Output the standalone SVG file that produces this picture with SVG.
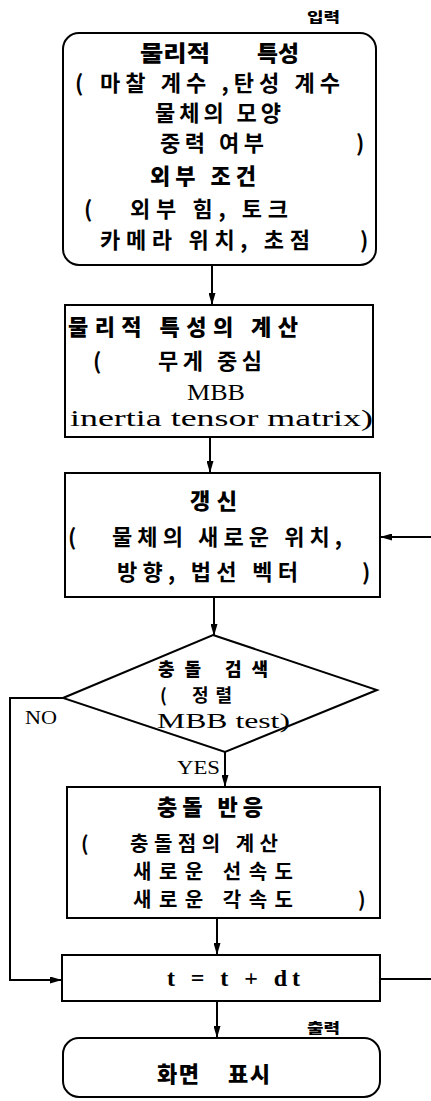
<svg xmlns="http://www.w3.org/2000/svg" width="431" height="1101" viewBox="0 0 431 1101">
<defs>
<marker id="ah" viewBox="0 0 12 8" refX="12" refY="4" markerWidth="12" markerHeight="7" markerUnits="userSpaceOnUse" orient="auto" preserveAspectRatio="none">
<path d="M0,0 L12,4 L0,8 Z" fill="#000"/>
</marker>
<style>
.box{fill:#fff;stroke:#000;stroke-width:2}
.ln{fill:none;stroke:#000;stroke-width:2}
.k{font-family:"Noto Sans CJK KR","Noto Sans",sans-serif;font-size:22px;font-weight:700;fill:#000}
.kb{font-family:"Noto Sans CJK KR","Noto Sans",sans-serif;font-size:22px;font-weight:900;fill:#000}
.k4{font-family:"Noto Sans CJK KR","Noto Sans",sans-serif;font-size:20px;font-weight:700;fill:#000}
.kd{font-family:"Noto Sans CJK KR","Noto Sans",sans-serif;font-size:18px;fill:#000}
.ks{font-family:"Noto Sans CJK KR","Noto Sans",sans-serif;font-size:14px;font-weight:900;fill:#000}
.s{font-family:"Liberation Serif","Times New Roman",serif;font-size:23px;fill:#000}
.sd{font-family:"Liberation Serif","Times New Roman",serif;font-size:20px;fill:#000}
.sb{font-family:"Liberation Serif","Times New Roman",serif;font-size:24px;font-weight:700;fill:#000}
.lbl{font-family:"Liberation Serif","Times New Roman",serif;font-size:18px;fill:#000}
</style>
</defs>
<rect width="431" height="1101" fill="#fff"/>
<g id="connectors">
<line class="ln" x1="212" y1="265" x2="212" y2="305" marker-end="url(#ah)"/>
<line class="ln" x1="210" y1="437" x2="210" y2="473" marker-end="url(#ah)"/>
<line class="ln" x1="214" y1="597" x2="214" y2="636" marker-end="url(#ah)"/>
<line class="ln" x1="225" y1="752" x2="225" y2="787" marker-end="url(#ah)"/>
<line class="ln" x1="217" y1="918" x2="217" y2="955" marker-end="url(#ah)"/>
<line class="ln" x1="217" y1="1001" x2="217" y2="1038" marker-end="url(#ah)"/>
<polyline class="ln" points="63,698 10,698 10,980 62,980" marker-end="url(#ah)"/>
<line class="ln" x1="380" y1="979" x2="431" y2="979"/>
<line class="ln" x1="431" y1="537" x2="380" y2="537" marker-end="url(#ah)"/>
<text class="lbl" x="25" y="724" textLength="32" lengthAdjust="spacingAndGlyphs">NO</text>
<text class="lbl" x="177" y="774" textLength="43" lengthAdjust="spacingAndGlyphs">YES</text>
<text class="ks" x="307" y="22" textLength="33" lengthAdjust="spacingAndGlyphs">입력</text>
<text class="ks" x="307" y="1033" textLength="33" lengthAdjust="spacingAndGlyphs">출력</text>
</g>
<g id="input">
<rect class="box" x="63" y="33" width="313" height="232" rx="16"/>
<text class="kb" x="140" y="61" textLength="70" lengthAdjust="spacingAndGlyphs">물리적</text>
<text class="kb" x="257" y="61" textLength="42" lengthAdjust="spacingAndGlyphs">특성</text>
<text class="k" x="75" y="91">(</text>
<text class="k" x="100" y="91" textLength="240" lengthAdjust="spacing">마찰 계수 ,탄성 계수</text>
<text class="k" x="155" y="121" textLength="126" lengthAdjust="spacing">물체의 모양</text>
<text class="k" x="160" y="151" textLength="104" lengthAdjust="spacing">중력 여부</text>
<text class="k" x="356" y="151">)</text>
<text class="kb" x="150" y="184" textLength="106" lengthAdjust="spacing">외부 조건</text>
<text class="k" x="84" y="217">(</text>
<text class="k" x="130" y="217" textLength="158" lengthAdjust="spacing">외부 힘, 토크</text>
<text class="k" x="100" y="248" textLength="210" lengthAdjust="spacing">카메라 위치, 초점</text>
<text class="k" x="360" y="248">)</text>
</g>
<g id="compute">
<rect class="box" x="65" y="305" width="308" height="132"/>
<text class="kb" x="68" y="335" textLength="230" lengthAdjust="spacing">물리적 특성의 계산</text>
<text class="k" x="93" y="369">(</text>
<text class="k" x="158" y="369" textLength="104" lengthAdjust="spacing">무게 중심</text>
<text class="s" x="187" y="400" textLength="58" lengthAdjust="spacingAndGlyphs">MBB</text>
<text class="s" x="70" y="426" textLength="303" lengthAdjust="spacingAndGlyphs">inertia tensor matrix)</text>
</g>
<g id="update">
<rect class="box" x="65" y="473" width="315" height="124"/>
<text class="kb" x="190" y="509" textLength="47" lengthAdjust="spacing">갱신</text>
<text class="k" x="68" y="545">(</text>
<text class="k" x="112" y="545" textLength="230" lengthAdjust="spacing">물체의 새로운 위치,</text>
<text class="k" x="117" y="580" textLength="181" lengthAdjust="spacing">방향, 법선 벡터</text>
<text class="k" x="362" y="580">)</text>
</g>
<g id="detect">
<polygon class="box" points="213,635 377,690 225,752 63,698"/>
<text class="kd" font-weight="900" x="158" y="676" textLength="110" lengthAdjust="spacing">충돌 검색</text>
<text class="kd" font-weight="700" x="160" y="702">(</text>
<text class="kd" font-weight="700" x="192" y="702" textLength="40" lengthAdjust="spacing">정렬</text>
<text class="sd" x="157" y="728" textLength="133" lengthAdjust="spacingAndGlyphs">MBB test)</text>
</g>
<g id="response">
<rect class="box" x="67" y="787" width="313" height="131"/>
<text class="kb" x="157" y="815" textLength="106" lengthAdjust="spacing">충돌 반응</text>
<text class="k4" x="81" y="851">(</text>
<text class="k4" x="130" y="851" textLength="148" lengthAdjust="spacing">충돌점의 계산</text>
<text class="k4" x="133" y="879" textLength="160" lengthAdjust="spacing">새로운 선속도</text>
<text class="k4" x="133" y="907" textLength="160" lengthAdjust="spacing">새로운 각속도</text>
<text class="k4" x="358" y="907">)</text>
</g>
<g id="time">
<rect class="box" x="62" y="955" width="318" height="46"/>
<text class="sb" x="167" y="986" textLength="133" lengthAdjust="spacing">t = t + dt</text>
</g>
<g id="output">
<rect class="box" x="63" y="1038" width="317" height="59" rx="16"/>
<text class="kb" x="157" y="1082" textLength="42" lengthAdjust="spacing">화면</text>
<text class="kb" x="228" y="1082" textLength="42" lengthAdjust="spacing">표시</text>
</g>
</svg>
